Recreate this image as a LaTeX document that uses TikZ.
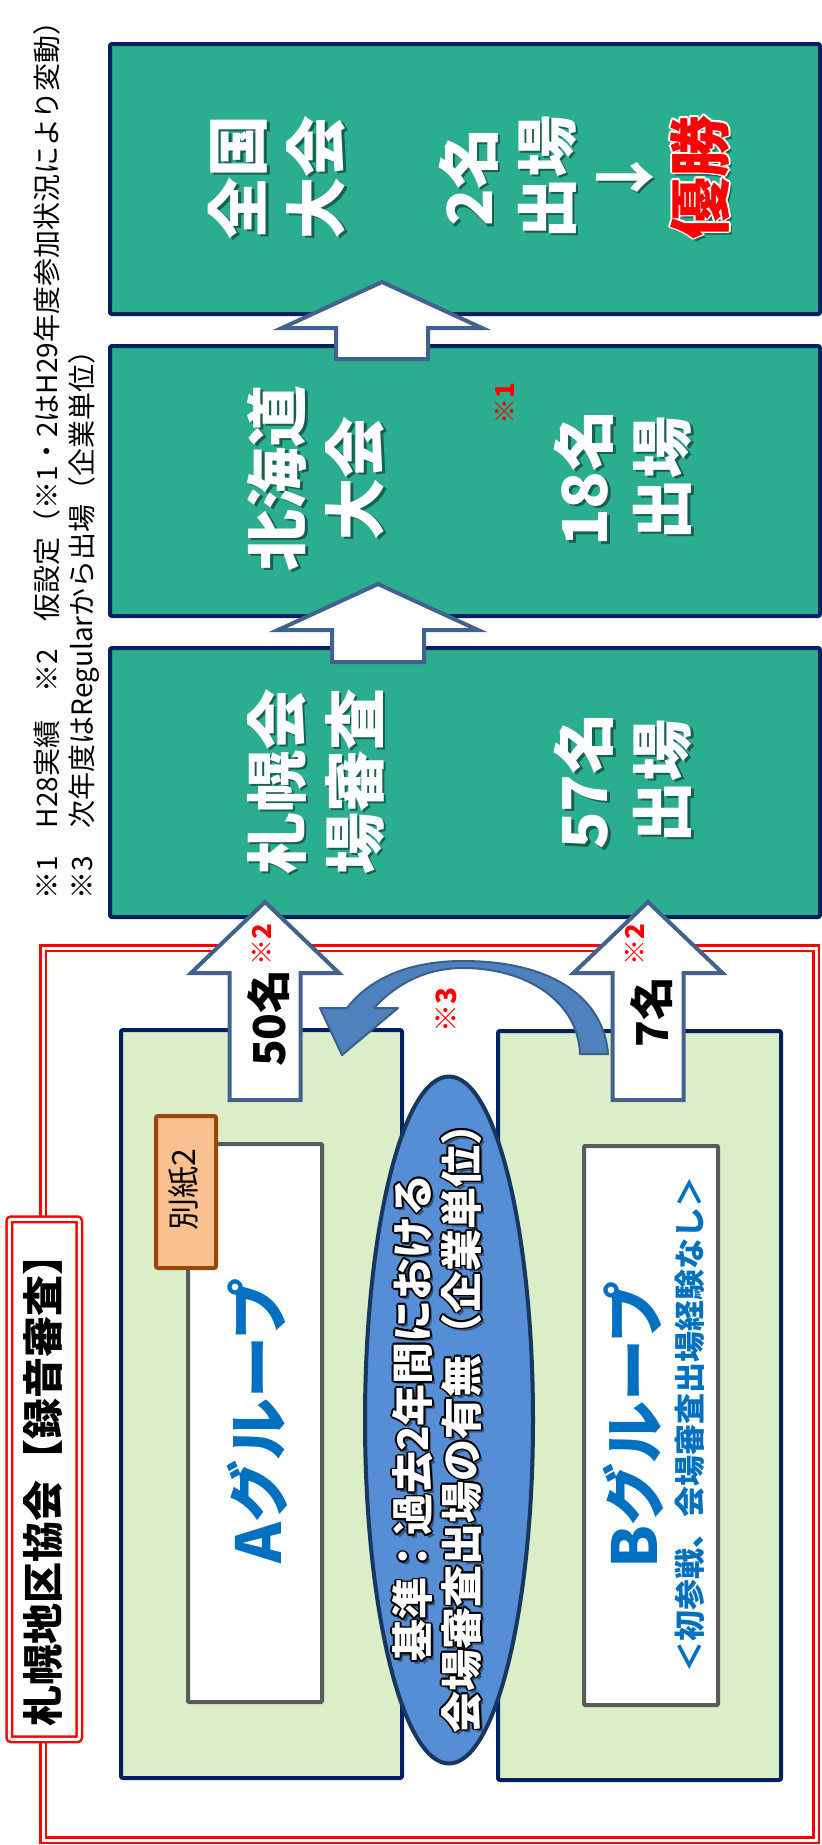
\documentclass[tikz,border=0pt]{standalone}
\usepackage{fontspec}
\setmainfont{Noto Sans CJK JP}
\usetikzlibrary{calc,shapes.geometric}
\definecolor{teal1}{HTML}{2BAE8F}
\definecolor{navy}{HTML}{002060}
\definecolor{lgreen}{HTML}{DBEEC7}
\definecolor{gray1}{HTML}{5A5A5A}
\definecolor{arrowc}{HTML}{41618F}
\definecolor{ellfill}{HTML}{558ED5}
\definecolor{elldraw}{HTML}{17375E}
\definecolor{carrowf}{HTML}{4F81BD}
\definecolor{carrowd}{HTML}{3A5F8F}
\definecolor{peach}{HTML}{FAC090}
\definecolor{brown1}{HTML}{974806}
\definecolor{blue1}{HTML}{0070C0}
\definecolor{red1}{HTML}{FF0000}
\tikzset{
  gbox/.style={draw=navy, fill=teal1, line width=4pt, rounded corners=2pt, inner sep=0pt},
  lgbox/.style={draw=navy, fill=lgreen, line width=4pt, rounded corners=2pt, inner sep=0pt},
  wbox/.style={draw=gray1, fill=white, line width=4pt, rounded corners=1pt, inner sep=0pt},
  tagbox/.style={draw=brown1, fill=peach, line width=4pt, rounded corners=2pt, inner sep=0pt},
  barrow/.style={draw=arrowc, fill=white, line width=4pt, line join=miter},
  redframe/.style={draw=red1, double=white, double distance=3pt, line width=2.5pt},
  rt/.style={rotate=90, inner sep=0pt, align=center},
  bigw/.style={rt, text=white, font=\bfseries\fontsize{62}{78}\selectfont},
  ellw/.style={rt, text=white, font=\bfseries\fontsize{42}{49}\selectfont},
  grp/.style={rt, text=blue1, font=\bfseries\fontsize{62}{70}\selectfont},
  sub/.style={rt, text=blue1, font=\bfseries\fontsize{31}{40}\selectfont},
  cnt/.style={rt, text=black, font=\bfseries\fontsize{44}{50}\selectfont},
  note/.style={rt, text=red1, font=\bfseries\fontsize{26}{30}\selectfont},
  foot/.style={rt, anchor=west, text=black, font=\fontsize{28}{30}\selectfont},
}
% shadowed text: options, position, name, text
\newcommand\shtext[4]{%
  \node[#1, text=black, opacity=0.45] at ($(#2)+(2.5,2.5)$) {#4};
  \node[#1] (#3) at (#2) {#4};}
% outlined text: options, position, name, outline colour, text
\newcommand\oltext[5]{%
  \node[#1, text=black, opacity=0.4] at ($(#2)+(3.5,3.5)$) {#5};
  \foreach \ddx/\ddy in {-1.8/0,1.8/0,0/-1.8,0/1.8,-1.3/-1.3,1.3/1.3,-1.3/1.3,1.3/-1.3}
    {\node[#1, text=#4] at ($(#2)+(\ddx,\ddy)$) {#5};}
  \node[#1] (#3) at (#2) {#5};}
% box node: style, name, x1, y1, x2, y2
\newcommand\boxnode[6]{%
  \node[#1, anchor=north west, minimum width={#5-#3}, minimum height={#6-#4}] (#2) at (#3,#4) {};}
% upward block arrow: cx, tip, base, bottom, head half width, shaft half width
\newcommand\blockup[6]{%
  \draw[barrow] (#1,#2) -- ({#1+#5},#3) -- ({#1+#6},#3) -- ({#1+#6},#4) -- ({#1-#6},#4)
    -- ({#1-#6},#3) -- ({#1-#5},#3) -- cycle;}
\begin{document}
\begin{tikzpicture}[x=1pt, y=-1pt]
\useasboundingbox (0,0) rectangle (822,1845);
\fill[white] (0,0) rectangle (822,1845);

% footnotes
\node[foot] (fn1) at (47,900) {※1　H28実績　※2　仮設定（※1・2はH29年度参加状況により変動）};
\node[foot] (fn2) at (84,900) {※3　次年度はRegularから出場（企業単位）};

% competition boxes
\boxnode{gbox}{zenkoku}{108}{42}{818}{312}
\boxnode{gbox}{hokkaido}{108}{344}{818}{614}
\boxnode{gbox}{sapporo}{108}{646}{818}{915}

\blockup{382}{282}{328}{359}{100}{46}
\blockup{378}{584}{630}{662}{100}{46}

% texts in competition boxes
\shtext{bigw}{277,177}{t1a}{全国\\大会}
\shtext{bigw}{546,177}{t1b}{2名\\出場\\↓}
\oltext{bigw, text=red1}{700,177}{t1c}{white}{優勝}
\shtext{bigw}{316,478}{t2a}{北海道\\大会}
\shtext{bigw}{623,478}{t2b}{18名\\出場}
\node[note] (n1) at (505,404) {※1};
\shtext{bigw}{316,781}{t3a}{札幌会\\場審査}
\shtext{bigw}{623,781}{t3b}{57名\\出場}

% outer red frame
\draw[redframe] (43,948) rectangle (816,1840);
\node[redframe, fill=white, rounded corners=2pt, anchor=north west, minimum width=70, minimum height=520, inner sep=0pt] (titlebox) at (8,1218) {};
\node[rt, anchor=west, font=\bfseries\fontsize{41}{42}\selectfont] (title) at (43,1727) {札幌地区協会【録音審査】};

% group boxes
\boxnode{lgbox}{agrp}{119}{1028}{400}{1776}
\boxnode{lgbox}{bgrp}{496}{1029}{779}{1778}
\boxnode{wbox}{ainner}{186}{1142}{320}{1700}
\boxnode{wbox}{binner}{582}{1144}{716}{1703}
\boxnode{tagbox}{tag}{154}{1114}{214}{1266}
\node[rt, font=\fontsize{32}{34}\selectfont] (tagtext) at (184,1190) {別紙2};

\node[grp] (atext) at (257,1421) {Aグループ};
\node[grp] (btext) at (633,1425) {Bグループ};
\node[sub] (bsub) at (690,1424) {＜初参戦、会場審査出場経験なし＞};

% up arrows from groups
\blockup{265}{902}{973}{1100}{74}{35.5}
\blockup{648}{902}{973}{1100}{74.5}{35.5}
\node[cnt] (a50) at (269,1018) {50名};
\node[note] (a50n) at (262,945) {※2};
\node[cnt] (b7) at (652,1012) {7名};
\node[note] (b7n) at (635,945) {※2};

% criterion ellipse
\node[ellipse, draw=elldraw, fill=ellfill, line width=4pt, minimum width=168, minimum height=687, inner sep=0pt] (crit) at (449,1420) {};
\oltext{ellw}{437,1418}{crittext}{black}{基準：過去2年間における\\会場審査出場の有無（企業単位）}

% curved arrow from B to A
\draw[fill=carrowf, draw=carrowd, line width=2pt, line join=round]
  (608,1054) .. controls (604,1000) and (555,961) .. (463,961)
  .. controls (410,961) and (370,978) .. (347,1008)
  -- (320,1008) -- (342,1055) -- (398,1008) -- (374,1008)
  .. controls (395,985) and (425,968) .. (463,968)
  .. controls (525,968) and (578,1000) .. (580,1054) -- cycle;
\node[note, font=\bfseries\fontsize{28}{30}\selectfont] (n3) at (446,1010) {※3};
\end{tikzpicture}
\end{document}
